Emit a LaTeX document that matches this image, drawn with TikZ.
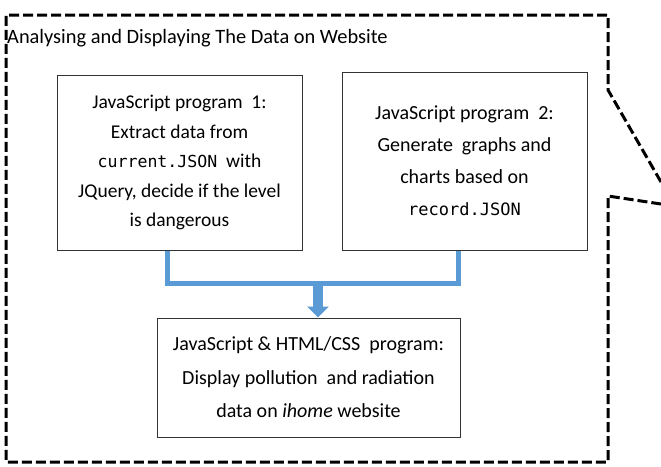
\documentclass[tikz,border=0pt]{standalone}
\usepackage{fontspec}
\setmainfont{Carlito}
\setmonofont{DejaVu Sans Mono}[Scale=0.85]
\usetikzlibrary{arrows.meta}
\definecolor{officeblue}{HTML}{5B9BD5}
\definecolor{boxline}{HTML}{333333}
\tikzset{
  frame/.style={line width=3pt, dash pattern=on 10pt off 4pt, line join=miter},
  progbox/.style={draw=boxline, line width=1pt, align=center, inner sep=0pt},
  blueline/.style={draw=officeblue, line width=5pt, line join=miter},
  fatarrow/.style={draw=officeblue, line width=10pt, -{Triangle[width=21pt,length=11pt]}}
}
\begin{document}
\begin{tikzpicture}[x=1pt,y=-1pt]
\useasboundingbox (0,0) rectangle (661,466);
% outer dashed frame
\draw[frame] (661,182) -- (608,90) -- (608,15) -- (6,15) -- (6,462) -- (608,462) -- (608,196) -- (661,204);
\node[anchor=base west, inner sep=0pt, font=\fontsize{20.4}{24}\selectfont] (title) at (7,43) {Analysing and Displaying The Data on Website};
% boxes
\node[progbox, minimum width=245pt, minimum height=175pt, font=\fontsize{19.5}{29.5}\selectfont] (b1) at (179.5,162.5)
  {JavaScript program~ 1:\\ Extract data from\\ \texttt{current.JSON} ~with\\ JQuery, decide if the level\\ is dangerous};
\node[progbox, minimum width=245pt, minimum height=178pt, font=\fontsize{20}{32}\selectfont] (b2) at (464.5,161)
  {JavaScript program~ 2:\\ Generate ~graphs and\\ charts based on\\ \texttt{record.JSON}};
\node[progbox, minimum width=303pt, minimum height=119pt, font=\fontsize{20}{33.5}\selectfont] (b3) at (308.5,377.5)
  {JavaScript \& HTML/CSS ~program:\\ Display pollution ~and radiation\\ data on \textit{ihome} website};
% connectors
\coordinate (h1) at (167,283);
\coordinate (h2) at (458,283);
\coordinate (m) at (318,281);
\draw[blueline] (b1.south -| h1) -- (h1) -- (h2) -- (b2.south -| h2);
\draw[fatarrow] (m) -- (b3.north -| m);
\end{tikzpicture}
\end{document}
